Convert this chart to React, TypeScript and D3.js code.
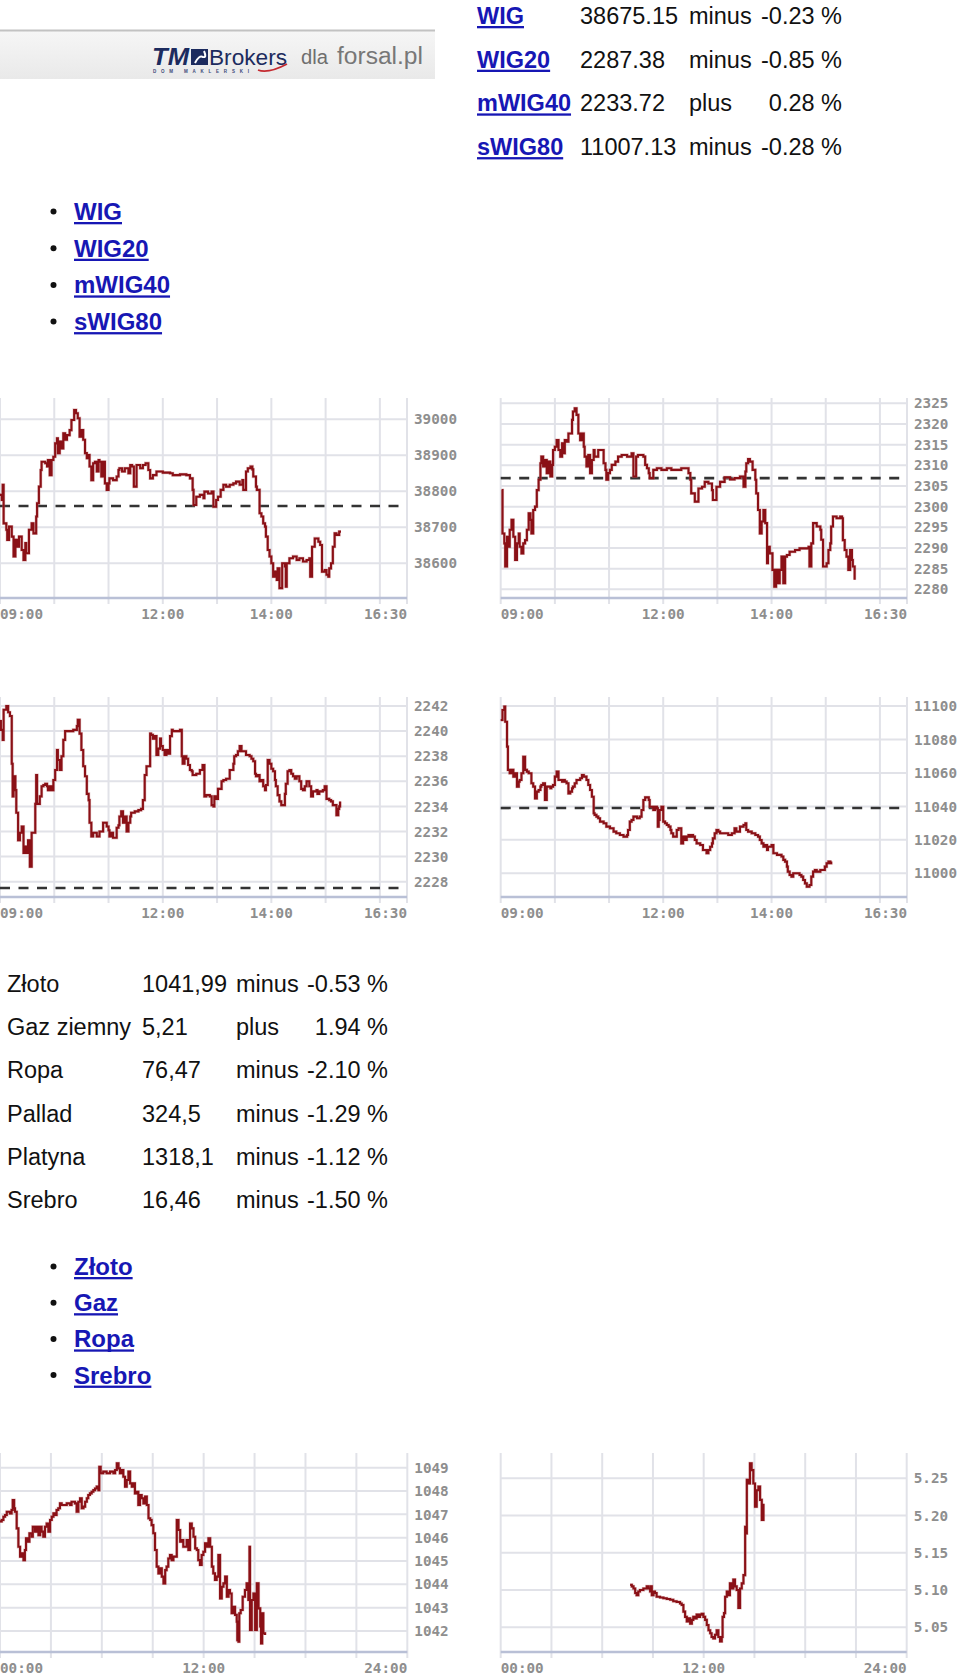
import React from 'react';
import * as d3 from 'd3';

type P = [number, number];

// ---------- text data ----------
const indexNames = ['WIG', 'WIG20', 'mWIG40', 'sWIG80'];
const indexValues = ['38675.15', '2287.38', '2233.72', '11007.13'];
const indexDirs = ['minus', 'minus', 'plus', 'minus'];
const indexChanges = ['-0.23 %', '-0.85 %', '0.28 %', '-0.28 %'];

const commodityNames = ['Złoto', 'Gaz ziemny', 'Ropa', 'Pallad', 'Platyna', 'Srebro'];
const commodityPrices = ['1041,99', '5,21', '76,47', '324,5', '1318,1', '16,46'];
const commodityDirs = ['minus', 'plus', 'minus', 'minus', 'minus', 'minus'];
const commodityChanges = ['-0.53 %', '1.94 %', '-2.10 %', '-1.29 %', '-1.12 %', '-1.50 %'];
const commodityLinks = ['Złoto', 'Gaz', 'Ropa', 'Srebro'];

// ---------- axis ticks ----------
const sessionTickMinutes = [0, 180, 300, 450];
const sessionTickLabels = ['09:00', '12:00', '14:00', '16:30'];
const dayTickMinutes = [0, 720, 1440];
const dayTickLabels = ['00:00', '12:00', '24:00'];

const wigTicks = [38600, 38700, 38800, 38900, 39000];
const wig20Ticks = [2280, 2285, 2290, 2295, 2300, 2305, 2310, 2315, 2320, 2325];
const mwig40Ticks = [2228, 2230, 2232, 2234, 2236, 2238, 2240, 2242];
const swig80Ticks = [11000, 11020, 11040, 11060, 11080, 11100];
const goldTicks = [1042, 1043, 1044, 1045, 1046, 1047, 1048, 1049];
const gasTicks = [5.05, 5.1, 5.15, 5.2, 5.25];

// previous close (dashed reference lines)
const wigPrev = 38759;
const wig20Prev = 2306.9;
const mwig40Prev = 2227.5;
const swig80Prev = 11039;

// ---------- series: [minutes from session/day start, value] ----------
const wigData: P[] = [[0,38790],[2,38776],[3,38818],[4,38711],[7,38693],[8,38665],[10,38702],[13,38674],[15,38619],[17,38665],[19,38646],[21,38674],[24,38637],[26,38609],[28,38656],[29,38628],[32,38693],[35,38711],[37,38683],[40,38730],[41,38767],[43,38813],[45,38859],[46,38882],[50,38878],[52,38869],[53,38887],[55,38845],[57,38887],[59,38896],[61,38933],[63,38947],[64,38906],[66,38938],[68,38919],[70,38961],[72,38943],[74,38956],[77,38970],[79,38998],[82,39026],[84,39017],[86,39003],[88,38952],[90,38970],[92,38943],[94,38906],[96,38892],[98,38901],[99,38869],[101,38831],[103,38878],[105,38882],[107,38855],[109,38887],[110,38882],[112,38841],[114,38882],[116,38822],[118,38804],[120,38822],[121,38836],[125,38831],[129,38841],[131,38859],[132,38864],[135,38855],[138,38864],[142,38850],[144,38873],[146,38869],[148,38813],[151,38873],[155,38864],[158,38873],[161,38878],[164,38859],[166,38836],[169,38845],[173,38855],[180,38852],[188,38850],[191,38845],[199,38847],[206,38845],[210,38836],[213,38804],[214,38762],[217,38785],[221,38790],[225,38781],[226,38799],[230,38794],[234,38799],[236,38757],[239,38776],[241,38785],[244,38804],[247,38818],[250,38813],[254,38818],[258,38822],[261,38827],[265,38818],[268,38831],[269,38804],[272,38855],[274,38864],[277,38869],[279,38861],[280,38841],[283,38813],[284,38804],[287,38739],[289,38730],[291,38711],[293,38702],[294,38674],[296,38637],[298,38619],[300,38600],[302,38563],[304,38577],[306,38554],[307,38586],[309,38531],[312,38600],[315,38591],[316,38535],[317,38600],[320,38614],[324,38619],[328,38609],[331,38614],[335,38605],[339,38609],[342,38614],[343,38563],[345,38646],[348,38669],[352,38660],[354,38651],[356,38577],[359,38581],[361,38568],[363,38563],[364,38586],[366,38600],[368,38646],[370,38683],[372,38679],[375,38688],[377,38688]];

const wig20Data: P[] = [[1,2304.0],[2,2293.5],[4,2291.1],[5,2285.5],[7,2292.7],[9,2290.3],[10,2294.4],[12,2296.8],[14,2292.7],[16,2287.1],[18,2291.1],[20,2293.5],[21,2290.3],[23,2288.7],[25,2291.1],[27,2291.9],[29,2294.4],[31,2298.4],[33,2296.8],[34,2293.5],[36,2299.2],[38,2300.0],[40,2304.0],[42,2306.5],[44,2310.5],[45,2312.1],[47,2309.7],[49,2311.3],[51,2308.1],[53,2310.9],[55,2307.3],[57,2310.1],[58,2313.7],[60,2314.5],[62,2316.1],[64,2313.7],[66,2312.1],[68,2315.3],[69,2312.9],[71,2316.1],[73,2315.7],[75,2317.7],[77,2317.7],[79,2321.0],[80,2323.0],[82,2323.8],[84,2322.2],[86,2317.7],[88,2316.1],[90,2317.7],[92,2314.5],[93,2312.1],[95,2309.7],[97,2312.5],[99,2308.1],[101,2311.3],[103,2313.7],[104,2312.1],[108,2313.7],[112,2313.7],[114,2310.5],[116,2308.9],[117,2306.5],[119,2308.1],[121,2308.9],[123,2310.1],[127,2310.9],[130,2312.1],[134,2312.5],[140,2312.1],[143,2312.1],[145,2312.9],[147,2307.3],[150,2312.1],[152,2312.5],[158,2312.1],[160,2310.1],[162,2309.3],[164,2308.1],[165,2306.9],[169,2308.9],[173,2309.3],[178,2308.9],[184,2309.3],[189,2308.9],[195,2308.9],[200,2309.3],[204,2309.3],[208,2308.1],[210,2306.5],[211,2303.2],[215,2301.2],[219,2304.4],[223,2304.8],[226,2306.0],[230,2305.6],[234,2304.0],[235,2301.6],[239,2304.8],[243,2306.0],[248,2307.1],[254,2306.6],[259,2306.9],[265,2307.3],[269,2304.8],[271,2308.5],[272,2310.5],[274,2311.5],[276,2310.9],[279,2308.9],[282,2306.5],[283,2303.2],[285,2299.2],[287,2293.5],[289,2296.4],[291,2299.2],[293,2296.0],[295,2286.3],[296,2290.3],[298,2288.7],[301,2284.7],[303,2280.6],[305,2284.7],[307,2281.5],[309,2284.7],[311,2287.9],[313,2281.5],[315,2287.9],[317,2288.3],[320,2289.1],[326,2289.5],[331,2289.9],[337,2289.9],[341,2290.3],[342,2285.5],[344,2291.1],[346,2296.0],[350,2295.2],[354,2294.4],[355,2292.0],[357,2285.5],[361,2286.3],[363,2289.5],[365,2291.1],[366,2295.2],[368,2297.6],[372,2297.2],[376,2297.6],[378,2297.2],[379,2291.9],[381,2289.5],[383,2287.9],[385,2284.7],[387,2289.5],[389,2287.1],[390,2285.5],[392,2282.3]];

const mwig40Data: P[] = [[0,2240.8],[1,2240.1],[3,2239.3],[4,2241.7],[7,2242.0],[9,2241.5],[11,2241.2],[13,2237.4],[14,2234.8],[15,2236.4],[17,2235.3],[18,2233.5],[20,2231.3],[22,2231.9],[24,2232.4],[26,2230.3],[28,2230.8],[29,2230.3],[31,2231.3],[33,2229.2],[35,2231.9],[37,2231.9],[39,2234.2],[40,2236.5],[41,2234.2],[44,2234.8],[46,2235.6],[48,2235.7],[50,2235.8],[52,2235.6],[53,2235.3],[55,2235.6],[57,2235.3],[59,2236.1],[61,2236.9],[63,2238.5],[64,2237.7],[66,2236.9],[68,2238.0],[70,2239.3],[72,2240.0],[74,2240.0],[77,2240.0],[81,2240.1],[85,2240.4],[86,2240.9],[88,2239.8],[90,2238.5],[92,2237.2],[94,2236.4],[96,2235.0],[98,2234.5],[99,2232.7],[101,2231.6],[103,2231.9],[107,2231.6],[110,2232.0],[114,2232.7],[118,2232.4],[120,2232.1],[121,2231.6],[123,2231.9],[125,2231.5],[129,2232.3],[131,2232.5],[132,2233.2],[134,2233.6],[136,2232.7],[138,2233.2],[140,2232.0],[142,2232.7],[144,2233.2],[145,2233.5],[149,2233.6],[153,2233.7],[156,2233.8],[158,2234.5],[160,2236.5],[162,2237.2],[164,2237.2],[166,2239.8],[167,2239.7],[169,2239.4],[171,2239.6],[173,2238.1],[175,2238.6],[177,2239.4],[178,2238.8],[180,2238.5],[182,2238.1],[184,2238.5],[186,2238.2],[188,2239.6],[190,2240.1],[191,2240.0],[195,2240.0],[199,2240.1],[201,2238.0],[202,2237.4],[204,2238.0],[206,2237.8],[208,2237.3],[210,2236.9],[212,2236.8],[213,2236.5],[217,2236.6],[221,2236.9],[223,2236.9],[224,2237.3],[226,2234.8],[228,2234.9],[232,2234.8],[234,2234.1],[236,2234.0],[237,2234.8],[239,2234.6],[241,2235.4],[243,2235.4],[245,2236.0],[247,2236.1],[250,2236.2],[254,2236.9],[258,2237.4],[259,2238.0],[261,2238.1],[263,2238.4],[265,2238.8],[267,2238.4],[269,2238.4],[272,2238.1],[276,2238.0],[278,2237.8],[280,2237.6],[282,2236.6],[283,2236.4],[285,2236.5],[287,2236.0],[289,2236.1],[291,2235.6],[293,2235.3],[294,2235.7],[296,2237.7],[298,2237.4],[300,2237.0],[302,2236.8],[304,2236.1],[305,2235.6],[307,2234.9],[309,2234.4],[311,2234.1],[313,2234.1],[315,2235.0],[316,2235.8],[318,2236.8],[320,2236.9],[322,2236.6],[324,2236.4],[326,2236.2],[328,2236.4],[331,2236.0],[333,2235.4],[335,2235.3],[337,2235.6],[339,2236.0],[340,2236.0],[342,2235.6],[344,2234.8],[346,2235.2],[350,2235.3],[351,2235.0],[353,2235.2],[357,2235.3],[359,2235.6],[361,2234.6],[364,2234.5],[366,2234.4],[368,2234.1],[370,2234.1],[372,2233.3],[374,2233.8],[375,2234.0],[376,2234.4]];

const swig80Data: P[] = [[0,11091.6],[2,11097.6],[4,11099.6],[5,11090.6],[7,11075.7],[8,11061.8],[10,11059.8],[12,11061.8],[14,11057.8],[16,11059.8],[18,11051.8],[20,11054.8],[21,11055.8],[23,11059.8],[25,11069.7],[27,11061.8],[29,11060.8],[31,11059.8],[32,11059.8],[34,11053.8],[36,11051.8],[38,11044.8],[40,11048.8],[42,11049.8],[44,11051.8],[45,11052.8],[47,11053.8],[49,11043.8],[51,11051.8],[53,11051.8],[55,11050.8],[56,11051.8],[58,11052.8],[60,11057.8],[62,11060.8],[64,11055.8],[66,11055.8],[68,11054.8],[69,11055.8],[71,11054.8],[73,11053.8],[75,11047.8],[77,11048.8],[79,11050.8],[80,11051.8],[82,11053.8],[84,11055.8],[88,11056.8],[90,11058.8],[92,11057.8],[93,11057.8],[95,11055.8],[97,11052.8],[99,11049.8],[101,11045.8],[103,11035.9],[104,11034.9],[106,11033.9],[108,11032.9],[110,11030.9],[114,11029.9],[117,11027.9],[121,11026.9],[125,11024.9],[128,11023.9],[132,11022.9],[136,11021.9],[140,11022.9],[141,11025.9],[143,11030.9],[145,11031.9],[147,11033.9],[151,11032.9],[154,11033.9],[156,11037.8],[158,11043.8],[160,11045.4],[162,11045.4],[164,11043.8],[165,11039.8],[167,11039.8],[169,11037.8],[171,11039.8],[173,11038.8],[174,11027.9],[175,11031.9],[176,11037.8],[178,11039.8],[180,11030.9],[182,11029.9],[184,11028.9],[186,11027.9],[188,11025.9],[189,11023.9],[191,11021.9],[193,11021.9],[195,11025.9],[197,11026.9],[199,11026.9],[200,11017.9],[202,11021.9],[204,11019.9],[206,11021.9],[208,11022.9],[210,11021.9],[211,11022.9],[213,11021.9],[215,11019.9],[217,11017.9],[221,11016.9],[224,11013.9],[228,11012.0],[230,11013.9],[232,11015.9],[234,11017.9],[235,11020.9],[237,11023.9],[239,11025.9],[241,11024.9],[243,11023.9],[245,11023.9],[248,11023.9],[252,11022.9],[256,11023.9],[259,11026.9],[261,11024.9],[265,11027.9],[269,11028.9],[271,11029.9],[272,11025.9],[274,11024.9],[278,11023.9],[282,11022.9],[285,11021.9],[287,11019.9],[289,11017.9],[291,11015.9],[293,11016.9],[295,11013.9],[296,11015.9],[298,11015.9],[300,11016.9],[302,11012.0],[306,11011.0],[309,11011.0],[311,11010.0],[313,11008.0],[315,11007.0],[317,11004.0],[318,11001.0],[320,10999.0],[322,10998.0],[324,11000.0],[328,11000.0],[330,11000.0],[331,10999.0],[333,10998.0],[335,10996.0],[337,10994.0],[339,10992.0],[341,10992.0],[342,10993.0],[344,10998.0],[346,11001.0],[348,11002.0],[350,11001.0],[354,11002.0],[357,11002.0],[359,11004.0],[361,11006.0],[363,11007.0],[365,11006.0],[366,11007.0]];

const goldData: P[] = [[0,1046.70],[6,1046.76],[12,1046.90],[18,1046.97],[24,1047.11],[30,1047.11],[35,1047.04],[41,1047.19],[45,1047.61],[50,1047.26],[53,1047.11],[59,1046.40],[65,1045.61],[71,1045.19],[77,1045.33],[83,1045.04],[88,1045.47],[92,1045.97],[97,1045.83],[104,1046.19],[112,1046.04],[116,1046.47],[124,1046.26],[130,1046.47],[136,1046.11],[142,1046.47],[147,1046.26],[153,1046.04],[159,1046.47],[165,1046.61],[171,1046.26],[177,1046.76],[183,1046.90],[189,1047.04],[195,1046.97],[200,1047.19],[206,1047.26],[212,1047.47],[218,1047.40],[224,1047.40],[236,1047.47],[248,1047.40],[253,1047.54],[265,1047.47],[271,1047.11],[277,1047.54],[283,1047.69],[289,1047.26],[295,1047.33],[301,1047.54],[307,1047.69],[312,1047.83],[318,1047.90],[324,1047.97],[330,1048.04],[336,1048.11],[342,1048.19],[348,1048.04],[351,1049.04],[356,1048.76],[365,1048.83],[377,1048.76],[389,1048.83],[401,1048.76],[407,1048.90],[413,1049.19],[419,1048.97],[424,1048.76],[430,1048.90],[436,1048.61],[442,1048.19],[448,1048.47],[454,1048.83],[460,1048.33],[466,1048.19],[472,1048.33],[477,1047.90],[483,1047.97],[489,1047.40],[495,1047.83],[501,1047.69],[507,1047.47],[513,1047.76],[519,1047.40],[525,1046.83],[531,1046.76],[536,1046.54],[542,1046.19],[548,1045.47],[554,1044.76],[560,1044.47],[566,1044.69],[572,1044.33],[578,1044.04],[584,1044.61],[589,1044.76],[595,1045.11],[601,1045.26],[607,1045.04],[613,1045.19],[619,1045.19],[625,1046.76],[631,1046.33],[637,1045.83],[642,1045.90],[648,1045.61],[654,1045.61],[660,1045.90],[666,1045.47],[672,1046.61],[678,1046.40],[684,1046.04],[690,1045.54],[696,1045.47],[701,1045.04],[707,1044.83],[713,1045.26],[719,1045.40],[725,1045.76],[731,1045.61],[737,1045.97],[743,1045.61],[749,1044.76],[754,1044.47],[760,1044.19],[766,1044.33],[772,1045.26],[778,1043.40],[784,1043.90],[790,1044.04],[796,1044.33],[802,1043.47],[808,1043.76],[813,1043.61],[819,1042.76],[825,1043.04],[831,1042.69],[837,1042.40],[839,1041.61],[843,1041.54],[846,1042.76],[851,1042.90],[858,1043.47],[866,1043.76],[872,1044.04],[878,1043.33],[882,1045.61],[884,1042.04],[890,1043.33],[896,1043.61],[902,1042.04],[908,1044.04],[914,1042.97],[920,1042.19],[923,1041.47],[927,1042.76],[931,1041.90],[937,1041.83]];

const gasData: P[] = [[459,5.107],[465,5.105],[471,5.102],[477,5.096],[482,5.093],[488,5.098],[494,5.100],[506,5.102],[518,5.105],[524,5.102],[530,5.098],[532,5.105],[536,5.093],[542,5.098],[547,5.096],[553,5.091],[565,5.090],[577,5.089],[589,5.088],[601,5.087],[612,5.085],[624,5.084],[636,5.082],[642,5.080],[648,5.071],[654,5.064],[660,5.058],[666,5.062],[672,5.055],[678,5.060],[683,5.064],[689,5.062],[695,5.067],[701,5.064],[707,5.067],[713,5.068],[719,5.064],[725,5.060],[731,5.053],[737,5.046],[743,5.042],[748,5.037],[754,5.035],[760,5.040],[766,5.046],[772,5.037],[778,5.031],[784,5.037],[787,5.064],[792,5.069],[796,5.091],[802,5.098],[808,5.093],[813,5.109],[819,5.102],[825,5.114],[831,5.105],[837,5.100],[843,5.076],[849,5.102],[855,5.109],[861,5.120],[867,5.185],[870,5.176],[873,5.248],[878,5.243],[884,5.270],[890,5.261],[896,5.243],[902,5.212],[908,5.234],[914,5.239],[920,5.221],[926,5.194],[932,5.216]];

// ---------- styles ----------
const SANS = "'Liberation Sans', Arial, Helvetica, sans-serif";
const MONO = "'DejaVu Sans Mono', 'Liberation Mono', monospace";
const LINK = '#1717b4';
const RED = '#8a1016';
const GRID = '#e1e2e8';
const AXIS = '#b9c0d6';
const LABEL = '#8e8e8e';
const NAVY = '#1c2b5e';

let measureCtx: CanvasRenderingContext2D | null = null;
function textWidth(t: string, font: string): number {
  if (typeof document === 'undefined') return t.length * 12;
  if (!measureCtx) measureCtx = document.createElement('canvas').getContext('2d');
  if (!measureCtx) return t.length * 12;
  measureCtx.font = font;
  return measureCtx.measureText(t).width;
}

interface ChartProps {
  data: P[];
  left: number;
  right: number;
  top: number;
  axisY: number;
  span: number;
  gridStep: number;
  xTickMinutes: number[];
  xTickLabels: string[];
  yTicks: number[];
  yLow: number;
  yHigh: number;
  fmt: (v: number) => string;
  prev?: number;
}

function Chart(p: ChartProps) {
  const x = d3.scaleLinear().domain([0, p.span]).range([p.left, p.right]);
  const y = d3
    .scaleLinear()
    .domain([p.yTicks[0], p.yTicks[p.yTicks.length - 1]])
    .range([p.yLow, p.yHigh]);
  const verticals = d3.range(0, p.span + 1, p.gridStep).concat(p.span % p.gridStep ? [p.span] : []);
  const line = d3
    .line<P>()
    .x((d) => x(d[0]))
    .y((d) => y(d[1]))
    .curve(d3.curveStepAfter);
  const n = p.xTickMinutes.length;
  const d = line(p.data) || '';
  return (
    <g>
      {p.yTicks.map((t) => (
        <line key={'h' + t} x1={p.left} x2={p.right} y1={y(t)} y2={y(t)} stroke={GRID} strokeWidth={2} />
      ))}
      {verticals.map((m) => (
        <line key={'v' + m} x1={x(m)} x2={x(m)} y1={p.top} y2={p.axisY + 6} stroke={GRID} strokeWidth={2} />
      ))}
      <line x1={p.left} x2={p.right} y1={p.axisY} y2={p.axisY} stroke={AXIS} strokeWidth={2.5} />
      {p.prev !== undefined && (
        <line
          x1={p.left}
          x2={p.right}
          y1={y(p.prev)}
          y2={y(p.prev)}
          stroke="#333"
          strokeWidth={2.6}
          strokeDasharray="10 8.5"
        />
      )}
      <path d={d} fill="none" stroke="#c47a7c" strokeWidth={3.2} strokeOpacity={0.45} />
      <path d={d} fill="none" stroke={RED} strokeWidth={2.1} />
      {p.yTicks.map((t) => (
        <text
          key={'yl' + t}
          x={p.right + 7}
          y={y(t)}
          dy="0.36em"
          fontFamily={MONO}
          fontWeight="bold"
          fontSize={14.3}
          fill={LABEL}
        >
          {p.fmt(t)}
        </text>
      ))}
      {p.xTickMinutes.map((m, i) => (
        <text
          key={'xl' + m}
          x={x(m)}
          y={p.axisY + 20.5}
          textAnchor={i === 0 ? 'start' : i === n - 1 ? 'end' : 'middle'}
          fontFamily={MONO}
          fontWeight="bold"
          fontSize={14.3}
          fill={LABEL}
        >
          {p.xTickLabels[i]}
        </text>
      ))}
    </g>
  );
}

function LinkText(props: { x: number; y: number; text: string; size: number }) {
  const w = textWidth(props.text, `bold ${props.size}px 'Liberation Sans', Arial, sans-serif`);
  return (
    <g>
      <text x={props.x} y={props.y} fontFamily={SANS} fontWeight="bold" fontSize={props.size} fill={LINK}>
        {props.text}
      </text>
      <rect x={props.x} y={props.y + 2} width={w} height={2.3} fill={LINK} />
    </g>
  );
}

function BulletList(props: { items: string[]; firstBaseline: number; step: number }) {
  return (
    <g>
      {props.items.map((t, i) => {
        const by = props.firstBaseline + i * props.step;
        return (
          <g key={t}>
            <circle cx={53.5} cy={by - 8.5} r={3} fill="#111" />
            <LinkText x={74} y={by} text={t} size={24} />
          </g>
        );
      })}
    </g>
  );
}

function Logo() {
  return (
    <g>
      <defs>
        <linearGradient id="logoBg" x1="0" y1="0" x2="0" y2="1">
          <stop offset="0" stopColor="#f6f6f6" />
          <stop offset="1" stopColor="#e9e9e9" />
        </linearGradient>
      </defs>
      <rect x={0} y={30} width={435} height={49} fill="url(#logoBg)" />
      <line x1={0} x2={435} y1={30.5} y2={30.5} stroke="#c2c2c2" strokeWidth={2} />
      <text
        x={152}
        y={65}
        fontFamily={SANS}
        fontWeight="bold"
        fontStyle="italic"
        fontSize={23}
        fill={NAVY}
        textLength={37}
        lengthAdjust="spacingAndGlyphs"
      >
        TM
      </text>
      <rect x={191} y={49} width={17} height={16} fill={NAVY} />
      <path d="M195 63 Q199 55 203 57 Q207 58 204 51" fill="none" stroke="#fff" strokeWidth={2} />
      <text
        x={209}
        y={65}
        fontFamily={SANS}
        fontSize={22}
        fill={NAVY}
        textLength={78}
        lengthAdjust="spacingAndGlyphs"
      >
        Brokers
      </text>
      <path d="M258 70 Q268 74 287 64" fill="none" stroke="#c42a30" strokeWidth={1.8} />
      <text
        x={153}
        y={73}
        fontFamily={SANS}
        fontWeight="bold"
        fontSize={4.5}
        fill="#3b4a78"
        textLength={96}
        lengthAdjust="spacing"
      >
        DOM MAKLERSKI
      </text>
      <text
        x={301}
        y={64}
        fontFamily={SANS}
        fontSize={20}
        fill="#6e6e6e"
        textLength={27}
        lengthAdjust="spacingAndGlyphs"
      >
        dla
      </text>
      <text
        x={337}
        y={64}
        fontFamily={SANS}
        fontSize={23}
        fill="#777"
        textLength={86}
        lengthAdjust="spacingAndGlyphs"
      >
        forsal.pl
      </text>
    </g>
  );
}

function IndexTable() {
  return (
    <g>
      {indexNames.map((name, i) => {
        const by = 24 + i * 43.7;
        return (
          <g key={name}>
            <LinkText x={477} y={by} text={name} size={23.5} />
            <g fontFamily={SANS} fontSize={23.5} fill="#111">
              <text x={580} y={by}>{indexValues[i]}</text>
              <text x={689} y={by}>{indexDirs[i]}</text>
              <text x={842} y={by} textAnchor="end">{indexChanges[i]}</text>
            </g>
          </g>
        );
      })}
    </g>
  );
}

function CommodityTable() {
  return (
    <g fontFamily={SANS} fontSize={23.5} fill="#111">
      {commodityNames.map((name, i) => {
        const by = 991.7 + i * 43.3;
        return (
          <g key={name}>
            <text x={7} y={by}>{name}</text>
            <text x={142} y={by}>{commodityPrices[i]}</text>
            <text x={236} y={by}>{commodityDirs[i]}</text>
            <text x={388} y={by} textAnchor="end">{commodityChanges[i]}</text>
          </g>
        );
      })}
    </g>
  );
}

export default function App() {
  const f0 = (v: number) => d3.format('d')(v);
  const f2 = (v: number) => d3.format('.2f')(v);
  const session = { span: 450, gridStep: 60, xTickMinutes: sessionTickMinutes, xTickLabels: sessionTickLabels };
  const day = { span: 1440, gridStep: 180, xTickMinutes: dayTickMinutes, xTickLabels: dayTickLabels };
  return (
    <svg
      width={960}
      height={1678}
      viewBox="0 0 960 1678"
      style={{ position: 'absolute', left: 0, top: 0, background: '#fff', display: 'block' }}
    >
      <rect x={0} y={0} width={960} height={1678} fill="#fff" />
      <Logo />
      <IndexTable />
      <BulletList items={indexNames} firstBaseline={220} step={36.7} />

      <Chart {...session} data={wigData} left={0} right={407} top={398} axisY={598}
        yTicks={wigTicks} yLow={563.3} yHigh={419.3} fmt={f0} prev={wigPrev} />
      <Chart {...session} data={wig20Data} left={500.7} right={907} top={398} axisY={598}
        yTicks={wig20Ticks} yLow={589.3} yHigh={403.3} fmt={f0} prev={wig20Prev} />
      <Chart {...session} data={mwig40Data} left={0} right={407} top={697} axisY={897}
        yTicks={mwig40Ticks} yLow={881.7} yHigh={706} fmt={f0} prev={mwig40Prev} />
      <Chart {...session} data={swig80Data} left={500.7} right={907} top={697} axisY={897}
        yTicks={swig80Ticks} yLow={873.3} yHigh={706} fmt={f0} prev={swig80Prev} />

      <CommodityTable />
      <BulletList items={commodityLinks} firstBaseline={1275} step={36.2} />

      <Chart {...day} data={goldData} left={0} right={407.3} top={1453} axisY={1652}
        yTicks={goldTicks} yLow={1631} yHigh={1467.7} fmt={f0} />
      <Chart {...day} data={gasData} left={500.7} right={906.7} top={1453} axisY={1652}
        yTicks={gasTicks} yLow={1627.3} yHigh={1478.3} fmt={f2} />
    </svg>
  );
}
